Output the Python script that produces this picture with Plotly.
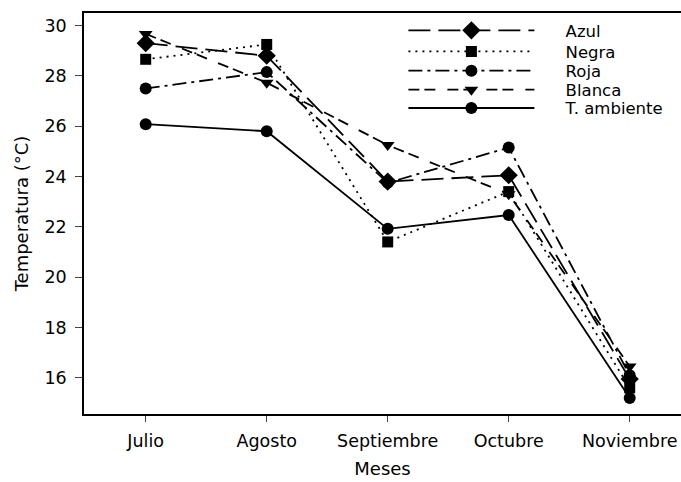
import plotly.graph_objects as go

meses = ["Julio", "Agosto", "Septiembre", "Octubre", "Noviembre"]
azul = [29.3, 28.8, 23.8, 24.05, 15.95]
negra = [28.66, 29.25, 21.4, 23.4, 15.6]
roja = [27.5, 28.15, 23.75, 25.15, 16.1]
blanca = [29.67, 27.73, 25.25, 23.3, 16.45]
ambiente = [26.08, 25.8, 21.92, 22.47, 15.2]

y_ticks = [16, 18, 20, 22, 24, 26, 28, 30]

series = [
    ("Azul", azul, "22px,8px", "diamond", 14),
    ("Negra", negra, "2px,5px", "square", 11),
    ("Roja", roja, "14px,5px,3px,5px", "circle", 12),
    ("Blanca", blanca, "11px,5px,11px,12px", "triangle-down", 12),
    ("T. ambiente", ambiente, "solid", "circle", 12),
]
legend_rows = [0.956, 0.9035, 0.8554, 0.808, 0.7624]

FONT = "DejaVu Sans, Liberation Sans, Arial, sans-serif"
PAD = "\u00a0" * 5
fig = go.Figure()
x_idx = list(range(len(meses)))
layout_legends = {}
for i, (name, vals, dash, sym, msize) in enumerate(series):
    lg = "legend" if i == 0 else f"legend{i + 1}"
    fig.add_trace(go.Scatter(
        x=x_idx, y=vals, name=PAD + name, mode="lines+markers",
        line=dict(color="black", width=1.8, dash=dash),
        marker=dict(color="black", size=msize, symbol=sym),
        legend=lg,
    ))
    layout_legends[lg] = dict(
        x=0.535, y=legend_rows[i], xanchor="left", yanchor="middle",
        bgcolor="rgba(0,0,0,0)", font=dict(size=16.5), itemwidth=126,
    )

fig.update_layout(
    width=681, height=482,
    margin=dict(l=84, r=0, t=13, b=68),
    paper_bgcolor="white", plot_bgcolor="white",
    font=dict(family=FONT, size=17.5, color="black"),
    showlegend=True,
    xaxis=dict(range=[-0.51, 4.424], tickmode="array", tickvals=x_idx,
               ticktext=meses, ticks="outside", ticklen=6, tickwidth=1.3,
               ticklabelstandoff=4,
               showline=True, linecolor="black", linewidth=1.5, mirror=True,
               showgrid=False, zeroline=False, automargin=False,
               title=dict(text="Meses", font=dict(size=18), standoff=13)),
    yaxis=dict(range=[14.56, 30.5], tickmode="array", tickvals=y_ticks,
               ticks="outside", ticklen=7, tickwidth=1.3,
               ticklabelstandoff=5,
               showline=True, linecolor="black", linewidth=1.5, mirror=False,
               showgrid=False, zeroline=False, automargin=False,
               title=dict(text="Temperatura (°C)", font=dict(size=18), standoff=11)),
    **layout_legends,
)

fig.write_html(
    "out.html",
    config={"displayModeBar": False},
    post_script="document.body.style.margin='0';document.body.style.overflow='hidden';",
)
